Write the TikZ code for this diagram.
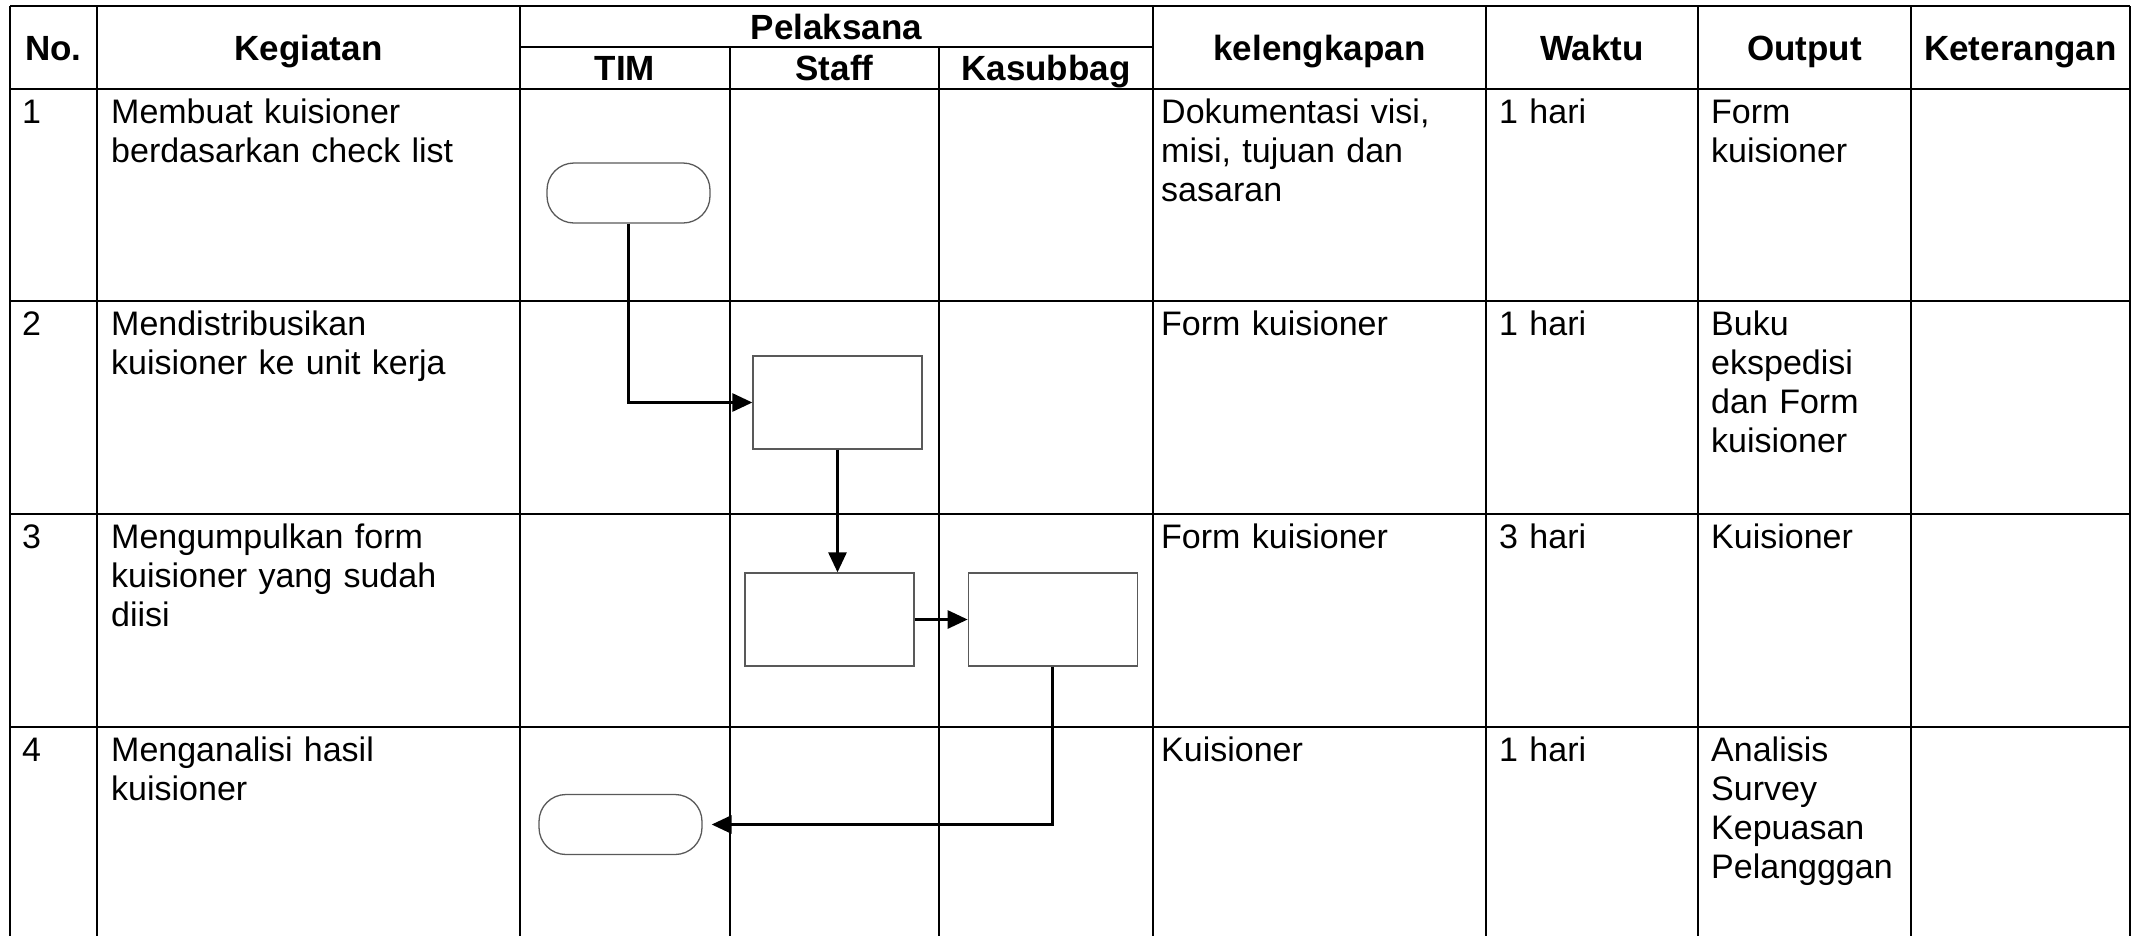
\documentclass[tikz,border=0pt]{standalone}
\usepackage{fontspec}
\setmainfont{Liberation Sans}
\usetikzlibrary{arrows.meta, positioning}

\begin{document}
\begin{tikzpicture}[x=1pt, y=-1pt,
  grid/.style={line width=2.8pt},
  head/.style={font=\fontsize{35}{40}\selectfont\bfseries, anchor=base, inner sep=0pt},
  cell/.style={font=\fontsize{34}{39}\selectfont, anchor=base west, inner sep=0pt, align=left, text width=#1},
  proses/.style={draw=black!65, line width=1.3pt, minimum width=169pt, minimum height=93pt, inner sep=0pt},
  terminal/.style={draw=black!65, line width=1.3pt, rounded corners=27pt, minimum width=163pt, minimum height=60pt, inner sep=0pt},
  alur/.style={line width=2.8pt, -{Triangle[length=20pt, width=18pt]}}]
\useasboundingbox (0,0) rectangle (2138,935);

\draw[grid] (10,6) -- (2130,6);
\draw[grid] (520,47) -- (1153,47);
\draw[grid] (10,89) -- (2130,89);
\draw[grid] (10,301) -- (2130,301) (10,514) -- (2130,514) (10,727) -- (2130,727);
\draw[grid] (10,6) -- (10,940) (97,6) -- (97,940) (520,6) -- (520,940) (1153,6) -- (1153,940);
\draw[grid] (1486,6) -- (1486,940) (1698,6) -- (1698,940) (1911,6) -- (1911,940) (2130,6) -- (2130,940);
\draw[grid] (730,47) -- (730,940) (939,47) -- (939,940);

\node[head] (hno) at (53.5,60) {No.};
\node[head] (hkegiatan) at (308.5,60) {Kegiatan};
\node[head] (hpelaksana) at (836.5,39) {Pelaksana};
\node[head] (htim) at (625,80) {TIM};
\node[head] (hstaff) at (834.5,80) {Staff};
\node[head] (hkasubbag) at (1046,80) {Kasubbag};
\node[head] (hkelengkapan) at (1319.5,60) {kelengkapan};
\node[head] (hwaktu) at (1592,60) {Waktu};
\node[head] (houtput) at (1804.5,60) {Output};
\node[head] (hketerangan) at (2020.5,60) {Keterangan};

\node[cell=60pt] (no1) at (22,123) {1};
\node[cell=400pt] (keg1) at (111,123) {Membuat kuisioner\\berdasarkan check list};
\node[cell=315pt] (kel1) at (1161,123) {Dokumentasi visi,\\misi, tujuan dan\\sasaran};
\node[cell=190pt] (wak1) at (1499,123) {1 hari};
\node[cell=196pt] (out1) at (1711,123) {Form\\kuisioner};

\node[cell=60pt] (no2) at (22,335) {2};
\node[cell=400pt] (keg2) at (111,335) {Mendistribusikan\\kuisioner ke unit kerja};
\node[cell=315pt] (kel2) at (1161,335) {Form kuisioner};
\node[cell=190pt] (wak2) at (1499,335) {1 hari};
\node[cell=196pt] (out2) at (1711,335) {Buku\\ekspedisi\\dan Form\\kuisioner};

\node[cell=60pt] (no3) at (22,548) {3};
\node[cell=400pt] (keg3) at (111,548) {Mengumpulkan form\\kuisioner yang sudah\\diisi};
\node[cell=315pt] (kel3) at (1161,548) {Form kuisioner};
\node[cell=190pt] (wak3) at (1499,548) {3 hari};
\node[cell=196pt] (out3) at (1711,548) {Kuisioner};

\node[cell=60pt] (no4) at (22,761) {4};
\node[cell=400pt] (keg4) at (111,761) {Menganalisi hasil\\kuisioner};
\node[cell=315pt] (kel4) at (1161,761) {Kuisioner};
\node[cell=190pt] (wak4) at (1499,761) {1 hari};
\node[cell=196pt] (out4) at (1711,761) {Analisis\\Survey\\Kepuasan\\Pelangggan};

\node[terminal] (mulai) at (628.5,193) {};
\node[proses] (distribusi) at (837.5,402.5) {};
\node[proses] (kumpul) at (829.5,619.5) {};
\node[proses, right=53pt of kumpul] (periksa) {};
\node[terminal] (selesai) at (620.5,824.5) {};

\draw[alur] (mulai.south) |- (distribusi.west);
\draw[alur] (distribusi.south) -- (distribusi.south |- kumpul.north);
\draw[alur] (kumpul.east) -- (periksa.west);
\draw[alur, shorten >=9pt] (periksa.south) |- (selesai.east);
\end{tikzpicture}
\end{document}
